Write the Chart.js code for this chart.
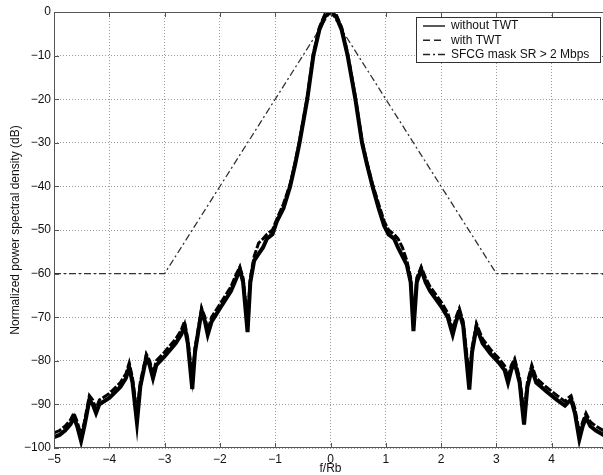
<!DOCTYPE html>
<html>
<head>
<meta charset="utf-8">
<script src="https://cdn.jsdelivr.net/npm/chart.js@4/dist/chart.umd.min.js"></script>
<style>
  html, body { margin: 0; padding: 0; background: #fff; overflow: hidden; }
  #wrap { width: 620px; height: 475px; position: relative; }
</style>
</head>
<body>
<div id="wrap"><canvas id="psdChart"></canvas></div>
<script>
// f/Rb sample points
const freq = [
  -5, -4.9, -4.8, -4.7, -4.64, -4.58, -4.51, -4.45, -4.36, -4.3,
  -4.24, -4.18, -4.0, -3.8, -3.7, -3.64, -3.58, -3.5, -3.44, -3.33,
  -3.27, -3.21, -3.15, -3.0, -2.8, -2.7, -2.64, -2.58, -2.5, -2.45,
  -2.33, -2.27, -2.22, -2.15, -2.0, -1.8, -1.7, -1.64, -1.58, -1.5,
  -1.45, -1.38, -1.3, -1.22, -1.15, -1.05, -0.97, -0.85, -0.73, -0.64,
  -0.56, -0.42, -0.31, -0.2, -0.1, 0,
  0.1, 0.2, 0.31, 0.45, 0.57, 0.66, 0.76, 0.87, 0.97, 1.05,
  1.15, 1.22, 1.3, 1.38, 1.45, 1.5, 1.56, 1.64, 1.72, 1.8,
  2.0, 2.12, 2.21, 2.27, 2.33, 2.4, 2.51, 2.56, 2.64, 2.75,
  2.9, 3.05, 3.15, 3.21, 3.27, 3.33, 3.42, 3.5, 3.56, 3.64,
  3.72, 3.9, 4.1, 4.24, 4.3, 4.35, 4.42, 4.5, 4.56, 4.62,
  4.7, 4.8, 5
];
const withoutTwt = [
  -97.5, -97, -96, -94.5, -93, -95, -98.4, -95, -89, -90,
  -92, -90, -88.5, -86, -84, -81.5, -85, -94.2, -86, -79.2,
  -81, -84, -81, -79, -76, -74, -72, -76, -86.5, -78,
  -68.5, -71, -74, -71, -68, -64, -61, -59, -62, -73.4,
  -62, -57, -55.5, -54, -52, -51, -48, -45, -40, -35,
  -30, -20, -10, -4, -1, 0,
  -1, -4, -10, -20, -30, -35, -40, -45, -49, -51,
  -52, -54, -56, -58, -62, -73.2, -62, -59, -62, -64,
  -67.5, -70, -74, -71, -68.8, -72, -86.6, -78, -72.3, -76,
  -78.5, -80.5, -82.2, -85, -82, -80.4, -85, -94.6, -86, -81.9,
  -85, -87, -89, -90.3, -89.5, -88.8, -92, -98, -95, -93,
  -95, -96, -97.5
];
const withTwt = [
  -96.5, -96, -95, -93.5, -92, -94, -97, -94, -88, -89,
  -91, -89, -87.5, -85, -83, -80.5, -84, -92, -85, -78.5,
  -80, -83, -80, -78, -75, -73, -71, -75, -84, -77,
  -68, -70, -73, -70, -67, -63, -60, -58.5, -61, -71,
  -61, -56, -53, -52, -51, -50, -47.5, -44, -39.5, -34.5,
  -29.5, -19.5, -9.5, -3.5, -0.5, 0,
  -0.5, -3.5, -9.5, -19.5, -29.5, -34.5, -39.5, -44, -48, -50,
  -51, -52, -54, -57, -61, -71, -61, -58.5, -61, -63,
  -66.5, -69, -73, -70, -68, -71, -84, -77, -71.5, -75,
  -77.5, -79.5, -81.2, -84, -81, -79.5, -84, -92, -85, -81,
  -84, -86, -88, -89.3, -88.5, -88, -91, -96.5, -94, -92,
  -94, -95, -96.5
];
// SFCG spectral mask
const maskFreq = [-5, -3, 0, 3, 5];
const maskLevel = [-60, -60, 0, -60, -60];

const xTicks = [-5, -4, -3, -2, -1, 0, 1, 2, 3, 4, 5];
const yTicks = [0, -10, -20, -30, -40, -50, -60, -70, -80, -90, -100];

const toPoints = (xs, ys) => xs.map((x, i) => ({ x, y: ys[i] }));
const minus = (v) => String(v).replace("-", "\u2212");
const axisColor = "#555";
const fontFamily = "'Liberation Sans', Arial, sans-serif";

// frame, inward ticks and boxed legend like the matlab figure
const framePlugin = {
  id: "frame",
  afterDraw(chart) {
    const { ctx, chartArea: a, scales } = chart;
    ctx.save();
    ctx.strokeStyle = axisColor;
    ctx.lineWidth = 1;
    ctx.strokeRect(a.left + 0.5, a.top + 0.5, a.right - a.left - 1, a.bottom - a.top - 1);
    ctx.beginPath();
    xTicks.forEach((v) => {
      const px = Math.round(scales.x.getPixelForValue(v)) + 0.5;
      ctx.moveTo(px, a.top); ctx.lineTo(px, a.top + 5);
      ctx.moveTo(px, a.bottom); ctx.lineTo(px, a.bottom - 5);
    });
    yTicks.forEach((v) => {
      const py = Math.round(scales.y.getPixelForValue(v)) + 0.5;
      ctx.moveTo(a.left, py); ctx.lineTo(a.left + 5, py);
      ctx.moveTo(a.right, py); ctx.lineTo(a.right - 5, py);
    });
    ctx.stroke();

    const box = { left: 416, top: 17, width: 184, height: 45 };
    ctx.fillStyle = "#fff";
    ctx.fillRect(box.left, box.top, box.width, box.height);
    ctx.strokeStyle = "#333";
    ctx.strokeRect(box.left + 0.5, box.top + 0.5, box.width, box.height);
    ctx.font = "12px " + fontFamily;
    ctx.textBaseline = "middle";
    chart.data.datasets.forEach((ds, i) => {
      const y = box.top + 9 + i * 14.3;
      ctx.strokeStyle = "#222";
      ctx.lineWidth = 1.5;
      ctx.setLineDash(ds.legendDash);
      ctx.beginPath();
      ctx.moveTo(box.left + 7, y); ctx.lineTo(box.left + 29, y);
      ctx.stroke();
      ctx.setLineDash([]);
      ctx.fillStyle = "#111";
      ctx.fillText(ds.label, box.left + 35, y);
    });
    ctx.restore();
  },
};

new Chart(document.getElementById("psdChart"), {
  type: "line",
  data: {
    datasets: [
      {
        label: "without TWT",
        data: toPoints(freq, withoutTwt),
        borderColor: "#000",
        borderWidth: 4,
        legendDash: [],
      },
      {
        label: "with TWT",
        data: toPoints(freq, withTwt),
        borderColor: "#000",
        borderWidth: 3,
        borderDash: [8, 2],
        legendDash: [7, 4],
      },
      {
        label: "SFCG mask SR > 2 Mbps",
        data: toPoints(maskFreq, maskLevel),
        borderColor: "#333",
        borderWidth: 1.3,
        borderDash: [7, 3, 2, 3],
        legendDash: [7, 3, 2, 3],
      },
    ],
  },
  options: {
    responsive: true,
    maintainAspectRatio: false,
    animation: false,
    events: [],
    layout: { padding: { left: 0, right: 13, top: 12, bottom: 0 } },
    elements: { point: { radius: 0 }, line: { tension: 0 } },
    plugins: { legend: { display: false }, tooltip: { enabled: false } },
    scales: {
      x: {
        type: "linear",
        min: -5,
        max: 5,
        afterBuildTicks: (scale) => { scale.ticks = xTicks.map((value) => ({ value })); },
        afterFit: (scale) => { scale.height = 27; },
        ticks: {
          color: "#111",
          padding: 4,
          font: { family: fontFamily, size: 12 },
          callback: (v) => minus(v),
        },
        grid: { color: "#9a9a9a", drawTicks: false, lineWidth: 1 },
        border: { display: false, dash: [1, 2] },
        title: {
          display: true,
          text: "f/Rb",
          color: "#111",
          font: { family: fontFamily, size: 12, lineHeight: 1 },
          padding: { top: 0, bottom: 0 },
        },
      },
      y: {
        min: -100,
        max: 0,
        afterBuildTicks: (scale) => { scale.ticks = yTicks.map((value) => ({ value })); },
        afterFit: (scale) => { scale.width = 54; },
        ticks: {
          color: "#111",
          padding: 3,
          font: { family: fontFamily, size: 12 },
          callback: (v) => minus(v),
        },
        grid: { color: "#9a9a9a", drawTicks: false, lineWidth: 1 },
        border: { display: false, dash: [1, 2] },
        title: {
          display: true,
          text: "Normalized power spectral density (dB)",
          color: "#111",
          font: { family: fontFamily, size: 12 },
          padding: { top: 8, bottom: 0 },
        },
      },
    },
  },
  plugins: [framePlugin],
});
</script>
</body>
</html>
